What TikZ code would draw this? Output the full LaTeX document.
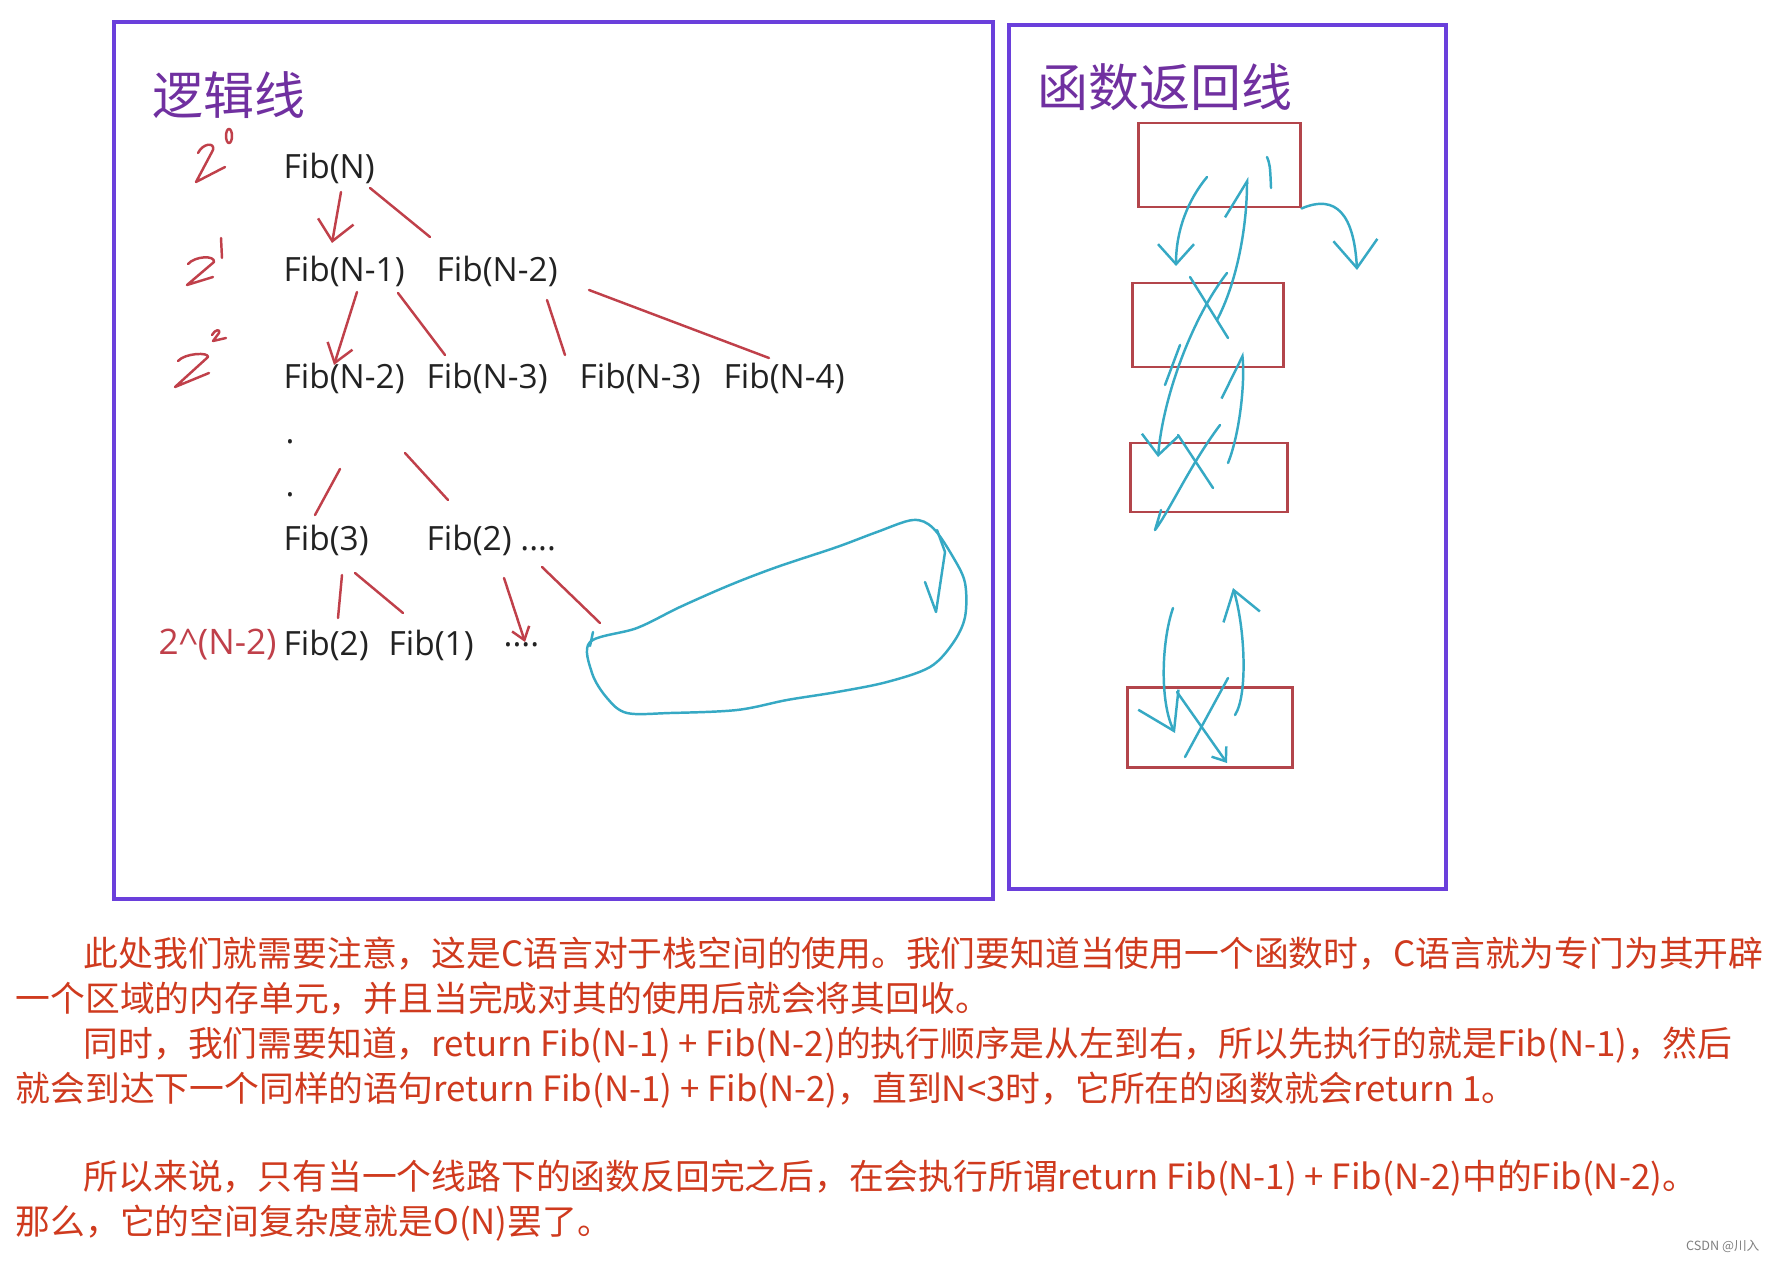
\documentclass[tikz,border=0pt]{standalone}
\usepackage{fontspec}
\setmainfont{Open Sans}
\newfontfamily\cjk{Noto Sans CJK SC}
\usepackage{tikz}
\usetikzlibrary{arrows.meta}
\usepackage{xcolor}
\definecolor{fframe}{HTML}{6A3FDB}
\definecolor{ftitle}{HTML}{7030A0}
\definecolor{fred}{HTML}{C0404A}
\definecolor{fblue}{HTML}{36A9C4}
\definecolor{fbox}{HTML}{B3454B}
\definecolor{fnote}{HTML}{CF3A1E}
\definecolor{fink}{HTML}{222222}
\tikzset{
  panel/.style   = {draw=fframe, line width=1.1pt},
  title/.style   = {ftitle, font=\cjk\fontsize{14.5}{17}\selectfont,
                    anchor=west, inner sep=0pt},
  fib/.style     = {fink, font=\fontsize{9.5}{11}\selectfont, anchor=west,
                    inner sep=0pt},
  redpen/.style  = {fred, line width=0.7pt, line cap=round, line join=round},
  bluepen/.style = {fblue, line width=0.7pt, line cap=round, line join=round},
  vtip/.style    = {-{Straight Barb[length=2mm, width=3.6mm]}},
  stack/.style   = {draw=fbox, line width=0.85pt, rectangle, inner sep=0pt},
  note/.style    = {fnote, font=\cjk\fontsize{9.9}{12}\selectfont,
                    anchor=west, inner sep=0pt},
}

\begin{document}
\begin{tikzpicture}[x=1cm, y=-1cm]
\fill[white] (0,0) rectangle (17.68,12.62);
\useasboundingbox (0,0) rectangle (17.68,12.62);
% ---- panels ----
\draw[panel] (1.14,0.22) rectangle (9.93,8.99);
\draw[panel] (10.09,0.25) rectangle (14.46,8.89);
\node[title] (tLogic)  at (1.52,0.95) {逻辑线};
\node[title] (tReturn) at (10.37,0.87) {函数返回线};
% ---- level marks ----
\draw[redpen] (1.98,1.53) .. controls (2.03,1.43) and (2.15,1.42) .. (2.13,1.50)
              -- (1.96,1.82) -- (2.25,1.67);
\draw[redpen] (2.29,1.36) ellipse (0.03 and 0.07);
\draw[redpen] (1.88,2.64) .. controls (1.95,2.56) and (2.15,2.55) .. (2.14,2.62)
              -- (1.87,2.85) -- (2.13,2.77);
\draw[redpen] (2.21,2.38) -- (2.22,2.58);
\draw[redpen] (1.78,3.61) .. controls (1.85,3.53) and (2.09,3.52) .. (2.08,3.57)
              -- (1.75,3.87) -- (2.09,3.73);
\draw[redpen] (2.12,3.35) .. controls (2.15,3.29) and (2.21,3.29) .. (2.19,3.33)
              -- (2.13,3.41) -- (2.26,3.38);
% ---- call tree ----
\node[fib] (fN)   at (2.83,1.68) {Fib(N)};
\node[fib] (fN1)  at (2.83,2.71) {Fib(N-1)};
\node[fib] (fN2a) at (4.36,2.71) {Fib(N-2)};
\node[fib] (fN2b) at (2.83,3.78) {Fib(N-2)};
\node[fib] (fN3a) at (4.26,3.78) {Fib(N-3)};
\node[fib] (fN3b) at (5.79,3.78) {Fib(N-3)};
\node[fib] (fN4)  at (7.23,3.78) {Fib(N-4)};
\node[fib] (dotA) at (2.85,4.42) {.};
\node[fib] (dotB) at (2.85,4.95) {.};
\node[fib] (f3)   at (2.83,5.40) {Fib(3)};
\node[fib] (f2a)  at (4.26,5.40) {Fib(2) ....};
\node[fib] (f2b)  at (2.83,6.45) {Fib(2)};
\node[fib] (f1)   at (3.88,6.45) {Fib(1)};
\node[fib] (tail) at (5.03,6.45) {....};
\node[fib, fred, font=\fontsize{10}{12}\selectfont] (lvl) at (1.58,6.45)
     {2\textasciicircum(N-2)};
\coordinate (loop) at (5.90,6.42);
\draw[redpen, vtip] ([shift={(0.58,0.24)}]fN.west)
                    -- ([shift={(0.49,-0.28)}]fN1.west);
\draw[redpen] ([shift={(0.87,0.20)}]fN.west) -- ([shift={(-0.06,-0.34)}]fN2a.west);
\draw[redpen, -{Straight Barb[length=1.8mm, width=2.6mm]}]
      ([shift={(0.74,0.21)}]fN1.west) -- ([shift={(0.51,-0.13)}]fN2b.west);
\draw[redpen] ([shift={(1.15,0.22)}]fN1.west) -- ([shift={(0.19,-0.23)}]fN3a.west);
\draw[redpen] ([shift={(1.11,0.29)}]fN2a.west) -- ([shift={(-0.14,-0.23)}]fN3b.west);
\draw[redpen] ([shift={(1.53,0.19)}]fN2a.west) -- ([shift={(0.46,-0.20)}]fN4.west);
\draw[redpen] ([shift={(0.55,0.27)}]dotA.west) -- ([shift={(0.32,-0.25)}]f3.west);
\draw[redpen] ([shift={(1.20,0.11)}]dotA.west) -- ([shift={(0.22,-0.40)}]f2a.west);
\draw[redpen] ([shift={(0.59,0.35)}]f3.west) -- ([shift={(0.55,-0.27)}]f2b.west);
\draw[redpen] ([shift={(0.72,0.33)}]f3.west) -- ([shift={(0.15,-0.32)}]f1.west);
\draw[redpen, -{Straight Barb[length=1.2mm, width=1.8mm]}]
      ([shift={(0.78,0.38)}]f2a.west) -- ([shift={(0.22,-0.03)}]tail.west);
\draw[redpen] ([shift={(1.16,0.27)}]f2a.west) -- ([shift={(0.10,-0.19)}]loop);
% ---- return loop ----
\draw[bluepen] plot[smooth cycle, tension=0.55] coordinates {
  (5.90,6.42) (6.37,6.28) (6.80,6.07) (7.30,5.85) (7.77,5.67) (8.37,5.47)
  (8.77,5.32) (9.13,5.20) (9.33,5.28) (9.53,5.57) (9.65,5.83) (9.65,6.17)
  (9.53,6.43) (9.30,6.67) (8.87,6.82) (8.37,6.92) (7.87,7.00) (7.37,7.10)
  (6.70,7.13) (6.27,7.13) (6.07,6.98) (5.92,6.73)};
\draw[bluepen] (9.37,5.30) -- (9.45,5.52) -- (9.36,6.12) -- (9.25,5.82);
\draw[bluepen] (5.93,6.32) -- (5.90,6.46);
% ---- stack frames ----
\node[stack, minimum width=1.62cm, minimum height=0.84cm] (boxA) at (12.19,1.65) {};
\node[stack, minimum width=1.51cm, minimum height=0.84cm] (boxB) at (12.075,3.25) {};
\node[stack, minimum width=1.57cm, minimum height=0.69cm] (boxC) at (12.085,4.775) {};
\node[stack, minimum width=1.65cm, minimum height=0.80cm] (boxD) at (12.095,7.27) {};
% calls going down
\draw[bluepen, vtip] ([shift={(-0.12,0.12)}]boxA.center)
      .. controls +(-0.19,0.23) and +(0,-0.36) .. ([shift={(-0.315,-0.59)}]boxB.center);
\draw[bluepen, vtip] ([shift={(0.195,-0.52)}]boxB.center)
      .. controls +(-0.35,0.45) and +(0.05,-0.6) .. ([shift={(-0.505,-0.205)}]boxC.center);
\draw[bluepen, -{Straight Barb[length=3.5mm, width=4.5mm]}]
      ([shift={(-0.365,-1.19)}]boxD.center)
      .. controls +(-0.12,0.35) and +(-0.15,-0.3) .. ([shift={(-0.345,0.06)}]boxD.center);
% returns going up
\draw[bluepen, -{Straight Barb[left, length=3.6mm, width=4.4mm]}]
      ([shift={(0.095,-0.05)}]boxB.center)
      .. controls +(0.20,-0.38) and +(0,0.5) .. ([shift={(0.28,0.12)}]boxA.center);
\draw[bluepen, -{Straight Barb[left, length=4mm, width=5mm]}]
      ([shift={(0.195,-0.145)}]boxC.center)
      .. controls +(0.12,-0.3) and +(0.03,0.3) .. ([shift={(0.345,0.27)}]boxB.center);
\draw[bluepen, -{Straight Barb[length=2.8mm, width=3.8mm]}]
      ([shift={(0.255,-0.12)}]boxD.center)
      .. controls +(0.13,-0.2) and +(0.12,0.4) .. ([shift={(0.235,-1.39)}]boxD.center);
\draw[bluepen, -{Straight Barb[length=2.8mm, width=4.4mm]}] (boxA.south east)
      .. controls +(0.35,-0.15) and +(-0.03,-0.55) .. ([shift={(1.38,1.05)}]boxA.center);
\draw[bluepen] (12.67,1.57) .. controls (12.70,1.65) .. (12.71,1.88);
% crosses
\draw[bluepen] ([shift={(-0.175,-0.48)}]boxB.center) -- ([shift={(0.205,0.13)}]boxB.center);
\draw[bluepen] (11.80,3.45) -- (11.65,3.85);
\draw[bluepen] ([shift={(-0.305,-0.425)}]boxC.center) -- ([shift={(0.045,0.105)}]boxC.center);
\draw[bluepen] ([shift={(0.115,-0.525)}]boxC.center)
      .. controls +(-0.3,0.4) and +(0.15,-0.2) .. ([shift={(-0.535,0.525)}]boxC.center)
      -- ++(0.06,-0.2);
\draw[bluepen, -{Straight Barb[length=1.2mm, width=1.8mm]}]
      ([shift={(-0.325,-0.35)}]boxD.center) -- ([shift={(0.175,0.36)}]boxD.center);
\draw[bluepen] ([shift={(0.185,-0.49)}]boxD.center) -- ([shift={(-0.245,0.30)}]boxD.center);
% ---- notes ----
\node[note] (p1) at (0.83,9.54)
  {此处我们就需要注意，这是C语言对于栈空间的使用。我们要知道当使用一个函数时，C语言就为专门为其开辟};
\node[note] (p2) at (0.15,9.99)
  {一个区域的内存单元，并且当完成对其的使用后就会将其回收。};
\node[note] (p3) at (0.83,10.45)
  {同时，我们需要知道，return Fib(N-1) + Fib(N-2)的执行顺序是从左到右，所以先执行的就是Fib(N-1)，然后};
\node[note] (p4) at (0.15,10.90)
  {就会到达下一个同样的语句return Fib(N-1) + Fib(N-2)，直到N<3时，它所在的函数就会return 1。};
\node[note] (p5) at (0.83,11.78)
  {所以来说，只有当一个线路下的函数反回完之后，在会执行所谓return Fib(N-1) + Fib(N-2)中的Fib(N-2)。};
\node[note] (p6) at (0.15,12.23)
  {那么，它的空间复杂度就是O(N)罢了。};
\node[gray, font=\cjk\fontsize{3.6}{4}\selectfont, anchor=east, inner sep=0pt]
     (mark) at (17.60,12.46) {CSDN @川入};
\end{tikzpicture}
\end{document}
